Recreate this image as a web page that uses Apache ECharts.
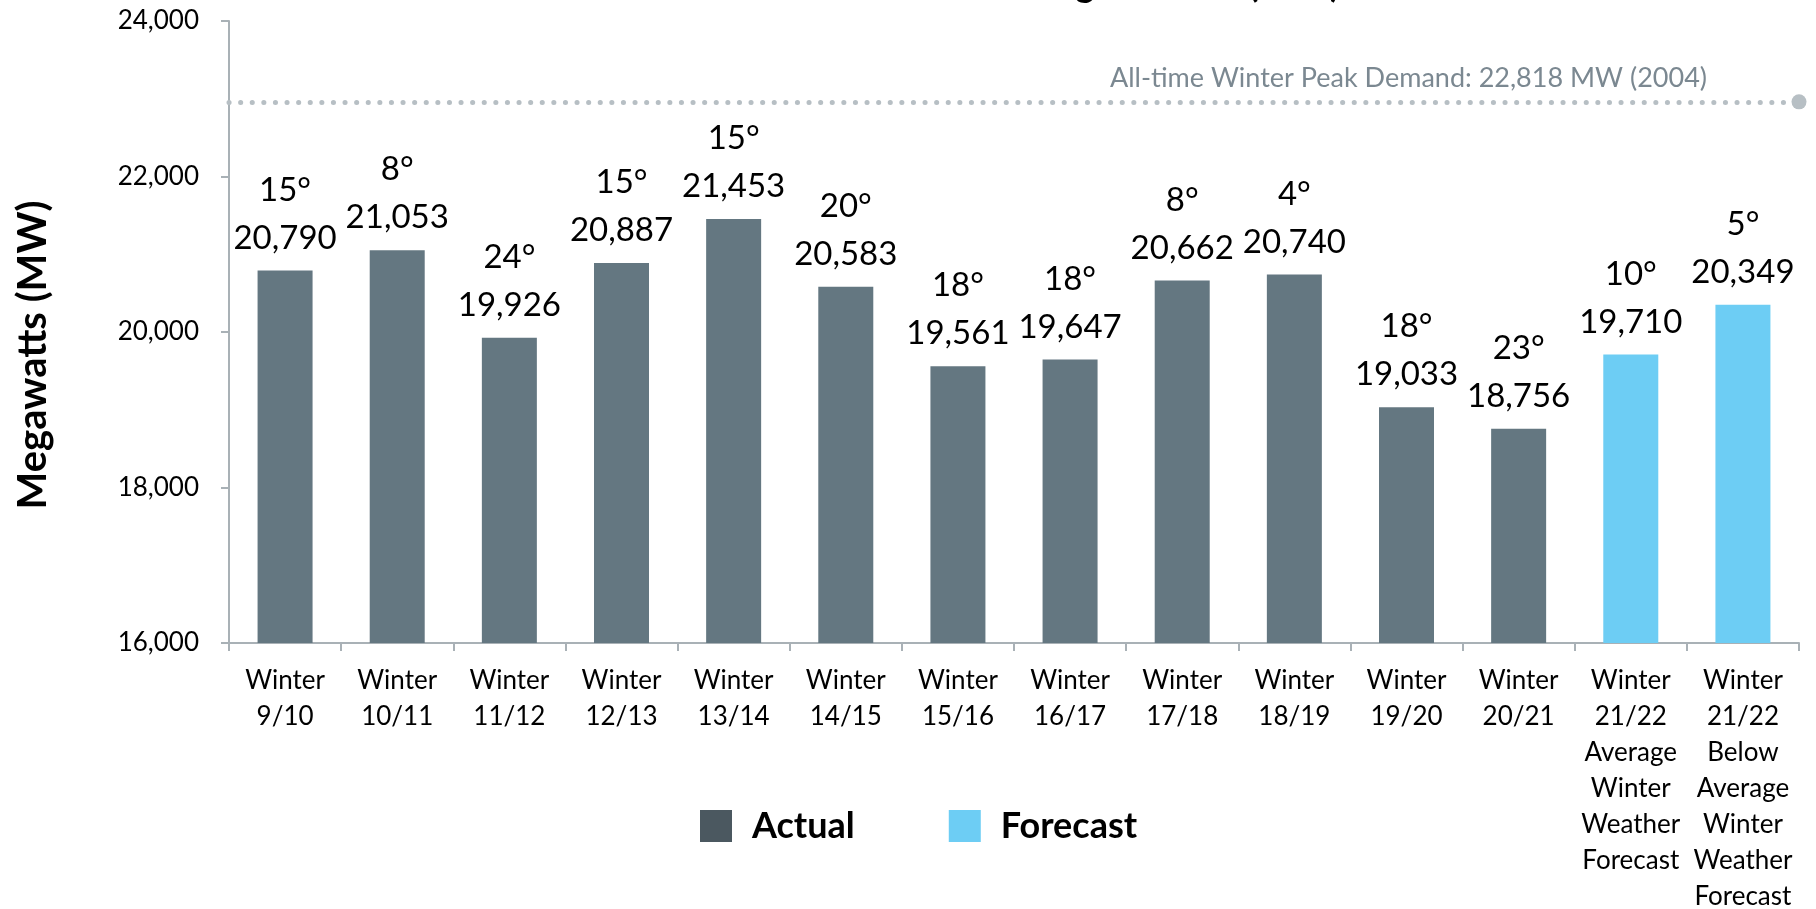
<!DOCTYPE html>
<html>
<head>
<meta charset="utf-8">
<title>Winter Peak Demand</title>
<script src="https://cdn.jsdelivr.net/npm/echarts@6/dist/echarts.min.js"></script>
<style>
  html, body { margin: 0; padding: 0; background: #fff; }
  #chart { width: 1816px; height: 909px; }
</style>
</head>
<body>
<div id="chart"></div>
<script>
// categories on the x axis
const categories = [
  'Winter\n9/10', 'Winter\n10/11', 'Winter\n11/12', 'Winter\n12/13', 'Winter\n13/14',
  'Winter\n14/15', 'Winter\n15/16', 'Winter\n16/17', 'Winter\n17/18', 'Winter\n18/19',
  'Winter\n19/20', 'Winter\n20/21',
  'Winter\n21/22\nAverage\nWinter\nWeather\nForecast',
  'Winter\n21/22\nBelow\nAverage\nWinter\nWeather\nForecast'
];
// peak demand (MW), actual winters then the two forecasts
const actualValues = [20790, 21053, 19926, 20887, 21453, 20583, 19561, 19647, 20662, 20740, 19033, 18756, null, null];
const forecastValues = [null, null, null, null, null, null, null, null, null, null, null, null, 19710, 20349];
// temperature at time of peak (°F)
const temps = [15, 8, 24, 15, 15, 20, 18, 18, 8, 4, 18, 23, 10, 5];
// y axis ticks
const yTicks = [16000, 18000, 20000, 22000, 24000];
// all-time winter peak reference
const peakValue = 22818;
const peakYear = 2004;
const peakLineLevel = 22960; // where the dotted line sits in the picture

const FONT = 'Lato, "Liberation Sans", sans-serif';
const fmt = v => Number(v).toLocaleString('en-US');

const chart = echarts.init(document.getElementById('chart'));

/** two-line label: temperature over value */
const barLabel = {
  show: true,
  position: 'top',
  distance: 9,
  formatter: p => '{t|' + temps[p.dataIndex] + '°}\n{v|' + fmt(p.value) + '}',
  rich: {
    t: { fontFamily: FONT, fontSize: 33, lineHeight: 49, color: '#000' },
    v: { fontFamily: FONT, fontSize: 33, lineHeight: 47, color: '#000' }
  }
};

const option = {
  animation: false,
  backgroundColor: '#fff',
  // title sits mostly above the picture, only its descenders show
  title: {
    text: 'Winter Peak Demand Including Forecast (MW)',
    right: 471,
    top: -38,
    textStyle: { fontFamily: FONT, fontSize: 36, fontWeight: 'bold', color: '#000' }
  },
  grid: { left: 229, right: 17, top: 21, bottom: 266, containLabel: false, outerBoundsMode: 'none' },
  legend: {
    left: 695,
    top: 803,
    itemWidth: 32,
    itemHeight: 32,
    itemGap: 94,
    icon: 'rect',
    textStyle: { fontFamily: FONT, fontSize: 36, fontWeight: 'bold', color: '#000', padding: [0, 0, 0, 15] },
    data: [
      { name: 'Actual', itemStyle: { color: '#4b5860' } },
      { name: 'Forecast', itemStyle: { color: '#6dcdf4' } }
    ]
  },
  xAxis: {
    type: 'category',
    data: categories,
    axisLine: { lineStyle: { color: '#a9b1b6', width: 2 } },
    axisTick: { show: true, length: 8, alignWithLabel: false, lineStyle: { color: '#a9b1b6', width: 2 } },
    axisLabel: {
      interval: 0,
      margin: 20,
      fontFamily: FONT,
      fontSize: 26,
      lineHeight: 36,
      color: '#000',
      verticalAlign: 'top'
    }
  },
  yAxis: {
    type: 'value',
    min: yTicks[0],
    max: yTicks[yTicks.length - 1],
    interval: yTicks[1] - yTicks[0],
    name: 'Megawatts (MW)',
    nameLocation: 'middle',
    nameGap: 176,
    nameRotate: 90,
    nameTextStyle: { fontFamily: FONT, fontSize: 40, fontWeight: 'bold', color: '#000', padding: [0, 46, 0, 0] },
    splitLine: { show: false },
    axisLine: { show: true, lineStyle: { color: '#a9b1b6', width: 2 } },
    axisTick: { show: true, length: 8, lineStyle: { color: '#a9b1b6', width: 2 } },
    axisLabel: {
      margin: 30,
      fontFamily: FONT,
      fontSize: 26,
      color: '#000',
      formatter: v => fmt(v)
    }
  },
  series: [
    {
      name: 'Actual',
      type: 'bar',
      data: actualValues,
      barWidth: 55,
      barGap: '-100%',
      itemStyle: { color: '#647781' },
      label: barLabel,
      markLine: {
        silent: true,
        symbol: ['none', 'circle'],
        symbolSize: 15,
        lineStyle: { type: [0.1, 11.5], cap: 'round', width: 5, color: '#b7bfc4' },
        itemStyle: { color: '#aeb7bc' },
        label: {
          show: true,
          position: 'insideEndTop',
          distance: [92, 10],
          formatter: 'All-time Winter Peak Demand: ' + fmt(peakValue) + ' MW (' + peakYear + ')',
          fontFamily: FONT,
          fontSize: 27,
          color: '#7b8891'
        },
        data: [{ yAxis: peakLineLevel }]
      }
    },
    {
      name: 'Forecast',
      type: 'bar',
      data: forecastValues,
      barWidth: 55,
      barGap: '-100%',
      itemStyle: { color: '#6dcdf4' },
      label: barLabel
    }
  ]
};

chart.setOption(option);
</script>
</body>
</html>
